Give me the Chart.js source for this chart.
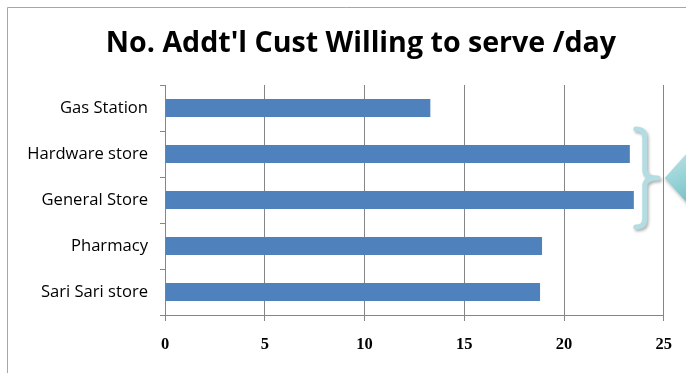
<!DOCTYPE html>
<html>
<head>
<meta charset="utf-8">
<script src="https://cdn.jsdelivr.net/npm/chart.js@4.4.0/dist/chart.umd.min.js"></script>
<style>
  html, body { margin: 0; padding: 0; background: #fff; }
</style>
</head>
<body>
<canvas id="custChart" width="686" height="373"></canvas>
<script>
// chart data
const categories = ["Gas Station", "Hardware store", "General Store", "Pharmacy", "Sari Sari store"];
const customers = [13.3, 23.3, 23.5, 18.9, 18.8];
const xTicks = [0, 5, 10, 15, 20, 25];
const chartTitle = "No. Addt'l Cust Willing to serve /day";
const bracketGroup = ["Hardware store", "General Store"];

const FONT = "'Open Sans', sans-serif";

// frame around the chart, plus the bracket + arrow callout on the right
const calloutPlugin = {
  id: "callout",
  afterLayout(chart) {
    // title in the original sits a bit right of the canvas centre
    if (chart.titleBlock) chart.titleBlock.left = 57;
  },
  beforeDraw(chart) {
    const c = chart.ctx;
    c.save();
    c.strokeStyle = "#a6a6a6";
    c.lineWidth = 1;
    c.beginPath();
    c.moveTo(7.5, 373);
    c.lineTo(7.5, 7.5);
    c.lineTo(686, 7.5);
    c.stroke();
    c.restore();
  },
  afterDraw(chart) {
    const c = chart.ctx;
    const ys = chart.scales.y;
    const area = chart.chartArea;
    const top = ys.getPixelForValue(categories.indexOf(bracketGroup[0])) - 25;
    const bot = ys.getPixelForValue(categories.indexOf(bracketGroup[1])) + 27;
    const mid = (top + bot) / 2;
    const L = area.right - 28, V = area.right - 19, T = area.right - 6;

    c.save();
    c.shadowColor = "rgba(0,0,0,0.3)";
    c.shadowBlur = 3;
    c.shadowOffsetX = 1.5;
    c.shadowOffsetY = 2;
    c.strokeStyle = "#b3dde2";
    c.lineWidth = 5;
    c.lineCap = "round";
    c.lineJoin = "round";
    c.beginPath();
    c.moveTo(L, top);
    c.quadraticCurveTo(V, top, V, top + 8);
    c.lineTo(V, mid - 8);
    c.quadraticCurveTo(V, mid, T, mid);
    c.quadraticCurveTo(V, mid, V, mid + 8);
    c.lineTo(V, bot - 8);
    c.quadraticCurveTo(V, bot, L, bot);
    c.stroke();
    c.restore();

    // arrow pointing at the bracket
    const tipX = area.right + 1;
    c.save();
    const g = c.createLinearGradient(tipX, mid - 30, tipX + 30, mid + 30);
    g.addColorStop(0, "#c4e7ea");
    g.addColorStop(0.6, "#8fcfd3");
    g.addColorStop(1, "#6fb8be");
    c.fillStyle = g;
    c.shadowColor = "rgba(0,0,0,0.2)";
    c.shadowBlur = 3;
    c.shadowOffsetY = 2;
    c.beginPath();
    c.moveTo(tipX, mid);
    c.lineTo(tipX + 34, mid - 38);
    c.lineTo(tipX + 34, mid + 38);
    c.closePath();
    c.fill();
    c.restore();
  }
};

const ctx = document.getElementById("custChart").getContext("2d");
const chart = new Chart(ctx, {
  type: "bar",
  data: {
    labels: categories,
    datasets: [{
      data: customers,
      backgroundColor: "#4f81bd",
      barPercentage: 0.39,
      categoryPercentage: 1
    }]
  },
  options: {
    indexAxis: "y",
    responsive: false,
    animation: false,
    layout: { padding: { left: 0, right: 21, top: 0, bottom: 0 } },
    plugins: {
      legend: { display: false },
      tooltip: { enabled: false },
      title: {
        display: true,
        text: chartTitle,
        color: "#000",
        font: { family: FONT, size: 28.6, weight: "bold", lineHeight: 1.2 },
        padding: { top: 27, bottom: 23.7 }
      }
    },
    scales: {
      x: {
        min: 0,
        max: 25,
        afterBuildTicks: ax => { ax.ticks = xTicks.map(v => ({ value: v })); },
        grid: { color: "#868686", tickLength: 6 },
        border: { color: "#868686" },
        ticks: { color: "#000", font: { family: "'Liberation Serif', serif", size: 16.5, weight: "bold" }, padding: 14 },
        afterFit: ax => { ax.height = 58; }
      },
      y: {
        grid: { drawOnChartArea: false, color: "#868686", tickLength: 5, offset: true },
        border: { color: "#868686" },
        ticks: { color: "#000", font: { family: FONT, size: 16.6 }, padding: 12 },
        afterFit: ax => { ax.width = 165; }
      }
    }
  },
  plugins: [calloutPlugin]
});
</script>
</body>
</html>
